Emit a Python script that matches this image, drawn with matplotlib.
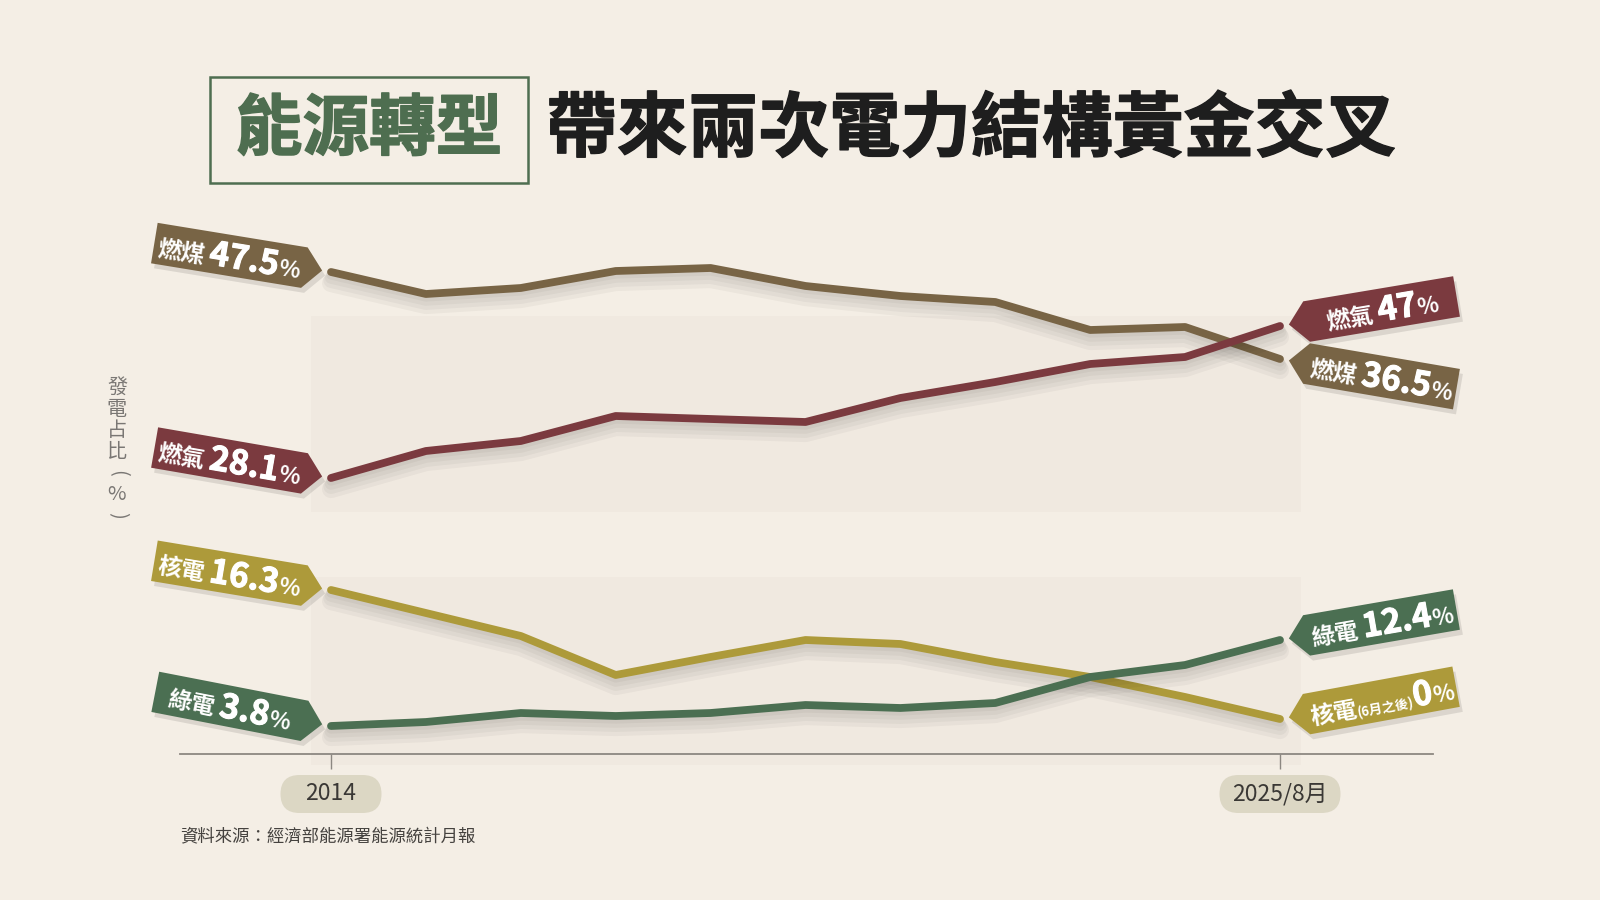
import numpy as np
import matplotlib
matplotlib.use("Agg")
import matplotlib.pyplot as plt
import matplotlib.patheffects as pe
from matplotlib.patches import Polygon, FancyBboxPatch, Rectangle
from matplotlib.transforms import IdentityTransform

plt.rcParams["font.family"] = ["Noto Sans CJK TC", "DejaVu Sans"]

# --- data (plotted height of each line above the axis;
#     the original graphic is illustrative, not drawn to a common scale) ---
x_idx = np.arange(11)
tick_pos = [0, 10]
tick_labels = ["2014", "2025/8月"]

coal = [482, 460, 466, 483, 486, 468, 458, 452, 424, 427, 395]
gas = [276, 303, 313, 338, 335, 332, 356, 372, 390, 397, 428]
nuclear = [164, 141, 118, 79, 97, 114, 110, 92, 77, 57, 35]
green = [28, 32, 41, 38, 41, 49, 46, 51, 77, 89, 114]

names = ["燃煤", "燃氣", "核電", "綠電"]
start_pct = ["47.5", "28.1", "16.3", "3.8"]
end_pct = ["36.5", "47", "0", "12.4"]
end_note = ["", "", "(6月之後)", ""]

title_tag = "能源轉型"
title_main = "帶來兩次電力結構黃金交叉"
ylabel_chars = ["發", "電", "占", "比", "(", "%", ")"]
source = "資料來源：經濟部能源署能源統計月報"

# --- style ---
BG = "#f4eee5"
COLORS = ["#786445", "#7b3a3f", "#ad9a3a", "#4b6f52"]
TAG_GREEN = "#4e6e50"
left_tilt = [-9.3, -9.8, -9.4, -11.0]
right_tilt = [-9.7, 9.5, 10.4, 9.8]

W, H = 1600, 900
fig = plt.figure(figsize=(16, 9), dpi=100)
fig.patch.set_facecolor(BG)
ID = IdentityTransform()

# faint background bands
for (x0, y0, x1, y1) in [(311, 316, 1301, 512), (311, 577, 1301, 765)]:
    fig.add_artist(Rectangle((x0, H - y1), x1 - x0, y1 - y0, transform=ID,
                             fc="#ece5db", ec="none", alpha=0.45, zorder=0))

ax_left, ax_right, ax_base, ax_top = 180, 1433, 754, 200
ax = fig.add_axes([ax_left / W, (H - ax_base) / H,
                   (ax_right - ax_left) / W, (ax_base - ax_top) / H])
ax.set_facecolor("none")
px_per_step = (1280 - 331) / 10
ax.set_xlim(-(331 - ax_left) / px_per_step, 10 + (ax_right - 1280) / px_per_step)
ax.set_ylim(0, ax_base - ax_top)
for s in ["top", "right", "left"]:
    ax.spines[s].set_visible(False)
ax.spines["bottom"].set_color("#8c8781")
ax.spines["bottom"].set_linewidth(1.3)
ax.set_yticks([])
ax.set_xticks(tick_pos)
ax.set_xticklabels(["", ""])
ax.tick_params(axis="x", length=11, width=1.0, color="#8c8781")

series = [coal, gas, nuclear, green]
shadow = [pe.SimpleLineShadow(offset=(0, -2 - 2 * k), shadow_color="#000000",
                              alpha=0.035, linewidth=7 + 2 * k) for k in range(4)]
for vals, c in zip(series, COLORS):
    ax.plot(x_idx, vals, color=c, lw=5.6, solid_capstyle="round",
            solid_joinstyle="round", zorder=3,
            path_effects=shadow + [pe.Normal()])

renderer = fig.canvas.get_renderer()


def text_width(s, size, weight):
    t = fig.text(0, 0, s, fontsize=size, fontweight=weight)
    w = t.get_window_extent(renderer=renderer).width
    t.remove()
    return w


def card(x, y, side, tilt, color, parts):
    # tip anchored to the line end, body rotated by tilt
    ex, ey = ax.transData.transform((x, y))
    ang = np.deg2rad(tilt + (180 if side == "left" else 0))
    d = np.array([np.cos(ang), np.sin(ang)])
    n = np.array([-d[1], d[0]])
    tip = np.array([ex, ey]) + 9 * d
    A, L, HH = 18, 152, 41
    local = [(0, 0), (A, HH / 2), (A + L, HH / 2), (A + L, -HH / 2), (A, -HH / 2)]
    pts = np.array([tip + u * d + v * n for u, v in local])
    fig.add_artist(Polygon(pts + np.array([3, -5]), closed=True, transform=ID,
                           fc="#000000", ec="none", alpha=0.10, zorder=4))
    fig.add_artist(Polygon(pts, closed=True, transform=ID, fc=color,
                           ec="none", zorder=5))
    # composite white text
    tr = np.deg2rad(tilt)
    tdir = np.array([np.cos(tr), np.sin(tr)])
    tup = np.array([-np.sin(tr), np.cos(tr)])
    widths = [text_width(s, sz, wt) + gap for s, sz, wt, gap in parts]
    total = sum(widths)
    big = max(p[1] for p in parts) * 100 / 72
    centre = tip + (A + L / 2) * d
    pos = centre - total / 2 * tdir - 0.36 * big * tup
    for (s, sz, wt, gap), w in zip(parts, widths):
        fx = [pe.withStroke(linewidth=0.8, foreground="white")] if sz > 20 else None
        fig.text(pos[0], pos[1], s, transform=ID, fontsize=sz, fontweight=wt,
                 color="white", rotation=tilt, rotation_mode="anchor",
                 ha="left", va="baseline", zorder=6, path_effects=fx)
        pos = pos + w * tdir


for i, vals in enumerate(series):
    card(x_idx[0], vals[0], "left", left_tilt[i], COLORS[i],
         [(names[i], 17, "bold", 5), (start_pct[i], 24, "bold", 0),
          ("%", 16, "bold", 0)])
    parts = [(names[i], 17, "bold", 0 if end_note[i] else 5)]
    if end_note[i]:
        parts.append((end_note[i], 9.5, "bold", 0))
    parts += [(end_pct[i], 24, "bold", 0), ("%", 16, "bold", 0)]
    card(x_idx[-1], vals[-1], "right", right_tilt[i], COLORS[i], parts)

# tick label pills
for xp, lab, wpx in zip(tick_pos, tick_labels, [101, 121]):
    cx, _ = ax.transData.transform((xp, 0))
    cy = H - 794
    fig.add_artist(FancyBboxPatch((cx - wpx / 2, cy - 19), wpx, 38,
                                  boxstyle="round,pad=0,rounding_size=19",
                                  transform=ID, fc="#dcd7c4", ec="none", zorder=2))
    fig.text(cx, cy, lab, transform=ID, ha="center", va="center",
             fontsize=16.5, fontweight="medium", color="#3a3835", zorder=3)

# title
bold_fx = lambda c, w: [pe.withStroke(linewidth=w, foreground=c)]
fig.add_artist(Rectangle((210, H - 183), 318, 106, transform=ID, fc="none",
                         ec=TAG_GREEN, lw=1.8))
fig.text(369, H - 130, title_tag, transform=ID, ha="center", va="center",
         fontsize=48, fontweight="heavy", color=TAG_GREEN,
         path_effects=bold_fx(TAG_GREEN, 1.0))
fig.text(546, H - 130, title_main, transform=ID, ha="left", va="center",
         fontsize=51, fontweight="heavy", color="#1e1e1e",
         path_effects=bold_fx("#1e1e1e", 1.0))

# vertical y label
for k, ch in enumerate(ylabel_chars):
    rot = -90 if ch in "()" else 0
    fig.text(117, H - (388 + 21.3 * k), ch, transform=ID, ha="center",
             va="center", fontsize=14.5, color="#7a7774", rotation=rot)

fig.text(180, H - 837, source, transform=ID, ha="left", va="center",
         fontsize=12.5, color="#45423f")

fig.savefig("out.png", dpi=100, facecolor=BG)
